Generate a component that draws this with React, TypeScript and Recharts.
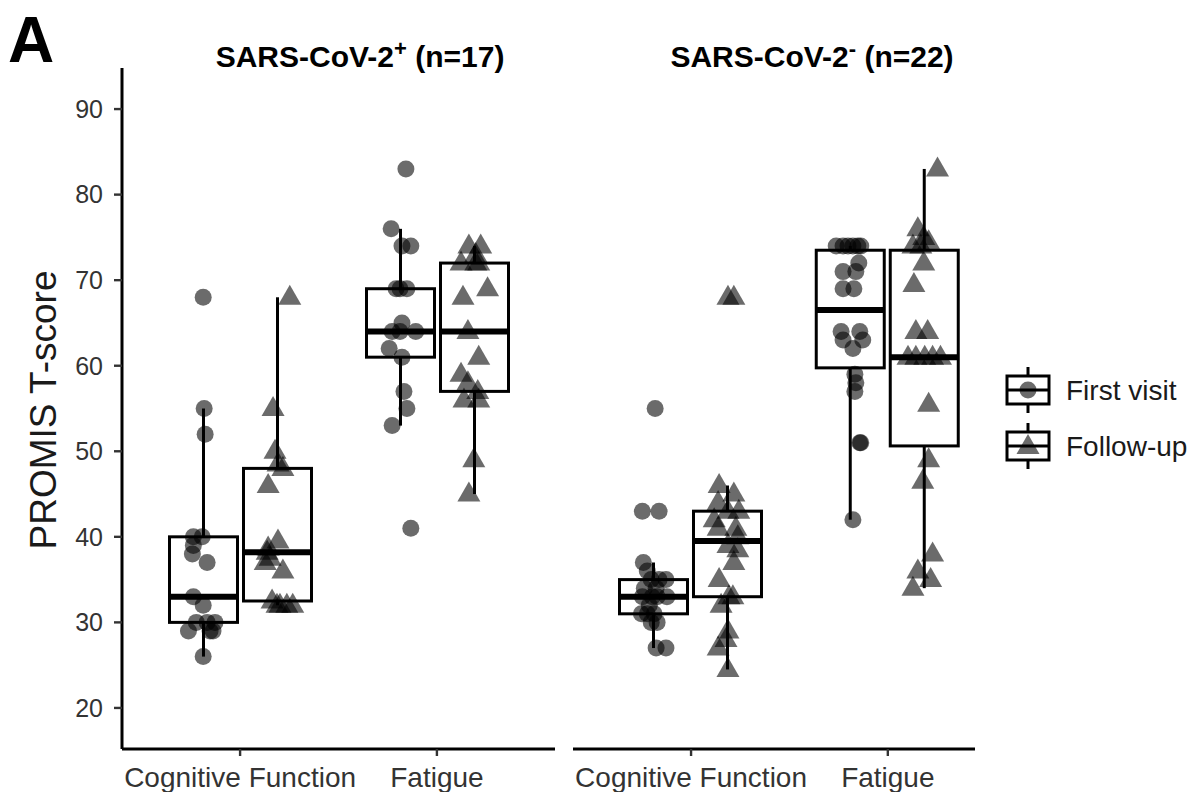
import React from 'react';
import { ComposedChart, Bar, Scatter, XAxis, YAxis } from 'recharts';

const FONT = '"Liberation Sans", Arial, Helvetica, sans-serif';

const categories = ['Cognitive Function', 'Fatigue'];
const visits = ['First visit', 'Follow-up'];
const yTicks = [20, 30, 40, 50, 60, 70, 80, 90];

// SARS-CoV-2+ (n=17): values, jitter = horizontal offset of each dot
const posCogFirst = [68, 55, 52, 40, 40, 39, 38, 37, 33, 32, 30, 30, 30, 29, 29, 29, 26];
const posCogFirstJit = [0, 0.005, 0.01, -0.05, -0.005, -0.05, -0.055, 0.02, -0.05, 0, -0.035, 0.02, 0.06, -0.075, 0.05, 0.035, 0];
const posCogFollow = [68, 55, 50, 48.5, 48, 46, 39.5, 38.7, 38.2, 37.5, 37, 36, 32.5, 32, 32, 32, 32];
const posCogFollowJit = [0.065, -0.02, -0.01, 0.005, 0.03, -0.045, 0.005, -0.045, -0.05, -0.035, -0.06, 0.03, -0.025, 0.015, 0.05, 0, 0.08];
const posFatFirst = [83, 76, 74, 74, 69, 69, 69, 65, 64, 64, 64, 62, 61, 57, 55, 53, 41];
const posFatFirstJit = [0.03, -0.045, 0.01, 0.055, -0.02, 0.035, 0, 0.01, -0.04, 0, 0.08, -0.055, 0.01, 0.02, 0.035, -0.04, 0.055];
const posFatFollow = [74, 74, 73, 72, 72, 72, 69, 68, 64, 61, 59, 58, 57, 56, 56, 49, 45];
const posFatFollowJit = [-0.025, 0.035, 0.01, -0.065, 0.01, 0.025, 0.07, -0.055, -0.03, 0.025, -0.065, -0.03, 0.02, -0.05, 0.025, 0, -0.025];

// SARS-CoV-2- (n=22)
const negCogFirst = [55, 43, 43, 37, 36, 35, 35, 35, 34, 34, 33, 33, 33, 33, 32, 31, 31, 31, 30, 30, 27, 27];
const negCogFirstJit = [0.005, -0.06, 0.025, -0.055, -0.035, 0.025, 0.06, -0.015, 0.01, -0.05, -0.06, -0.01, 0.065, 0.015, -0.025, -0.065, 0, -0.035, -0.015, 0.015, 0.01, 0.06];
const negCogFollow = [68, 68, 46, 45, 44, 43, 43, 42, 41, 41, 40, 39, 38.5, 37, 35, 33, 33, 32, 29, 28, 27, 24.5];
const negCogFollowJit = [0, 0.03, -0.045, 0.03, -0.05, 0.055, 0, -0.07, 0.04, -0.05, 0.05, 0, 0.05, 0.03, -0.045, 0.005, 0.025, -0.035, 0, -0.01, -0.05, 0];
const negFatFirst = [74, 74, 74, 74, 74, 74, 72, 71, 71, 69, 69, 64, 64, 63, 63, 62, 59, 58, 57, 51, 51, 42];
const negFatFirstJit = [-0.075, -0.04, -0.015, 0.01, 0.035, 0.05, 0.04, -0.04, 0.025, -0.04, 0.015, -0.05, 0.045, -0.04, 0.06, 0.01, 0.02, 0.025, 0.02, 0.05, 0.045, 0.01];
const negFatFollow = [83, 76, 75, 74.5, 74, 74, 72, 69.5, 64, 64, 61, 61, 61, 61, 61, 55.5, 49, 46.5, 38, 36, 35, 34];
const negFatFollowJit = [0.065, -0.035, -0.005, 0.02, -0.06, -0.02, -0.005, -0.055, 0.015, -0.045, -0.085, -0.045, 0, 0.04, 0.08, 0.02, 0.02, -0.01, 0.04, -0.035, 0.03, -0.06];

const DODGE = 0.1875;
const LINE = 3;

function quantile(sorted: number[], p: number) {
  const h = (sorted.length - 1) * p;
  const lo = Math.floor(h);
  const hi = Math.ceil(h);
  return sorted[lo] + (h - lo) * (sorted[hi] - sorted[lo]);
}

function boxStats(values: number[]) {
  const s = [...values].sort((a, b) => a - b);
  const q1 = quantile(s, 0.25);
  const med = quantile(s, 0.5);
  const q3 = quantile(s, 0.75);
  const iqr = q3 - q1;
  const lo = s.find((v) => v >= q1 - 1.5 * iqr) as number;
  const hi = [...s].reverse().find((v) => v <= q3 + 1.5 * iqr) as number;
  return { q1, med, q3, lo, hi };
}

function makeRows(first: number[][], follow: number[][]) {
  return categories.map((cat, i) => ({ cat, first: boxStats(first[i]), follow: boxStats(follow[i]) }));
}

function makePoints(vals: number[][], jit: number[][], side: number) {
  return vals.flatMap((arr, i) => arr.map((v, j) => ({ x: i + 1 + side * DODGE + jit[i][j], y: v })));
}

const boxRange = (key: 'first' | 'follow') => (d: any) => (d && d[key] ? [d[key].q1, d[key].q3] : null);

const boxShape = (key: 'first' | 'follow') => (props: any) => {
  const { x, y, width, height, payload } = props;
  const s = payload && payload[key];
  if (!s || !height) return <g />;
  const top = Math.min(y, y + height);
  const h = Math.abs(height);
  const ppu = h / (s.q3 - s.q1);
  const toY = (v: number) => top + (s.q3 - v) * ppu;
  const cx = x + width / 2;
  return (
    <g>
      <line x1={cx} x2={cx} y1={toY(s.hi)} y2={top} stroke="#000" strokeWidth={LINE} />
      <line x1={cx} x2={cx} y1={top + h} y2={toY(s.lo)} stroke="#000" strokeWidth={LINE} />
      <rect x={x} y={top} width={width} height={h} fill="#fff" stroke="#000" strokeWidth={LINE} />
      <line x1={x} x2={x + width} y1={toY(s.med)} y2={toY(s.med)} stroke="#000" strokeWidth={LINE * 2} />
    </g>
  );
};

const Dot = (props: any) => <circle cx={props.cx} cy={props.cy} r={8.5} fill="#000" fillOpacity={0.58} />;
const Tri = (props: any) => {
  const { cx, cy } = props;
  return (
    <polygon
      points={`${cx},${cy - 12.5} ${cx - 11.5},${cy + 7.5} ${cx + 11.5},${cy + 7.5}`}
      fill="#000"
      fillOpacity={0.58}
    />
  );
};

function Panel({ rows, firstPts, followPts, width, left, xMax, padRight, showY }: any) {
  return (
    <div style={{ position: 'absolute', left, top: 0 }}>
      <ComposedChart
        width={width}
        height={792}
        data={rows}
        margin={{ top: 68, right: 0, bottom: 0, left: 0 }}
        barSize={68}
        barGap={6}
      >
        <XAxis
          xAxisId="num"
          type="number"
          dataKey="x"
          domain={[0.4, xMax]}
          allowDataOverflow
          ticks={[1, 2]}
          interval={0}
          tickFormatter={(v: number) => categories[v - 1]}
          height={43}
          axisLine={{ stroke: '#000', strokeWidth: LINE }}
          tickLine={{ stroke: '#333', strokeWidth: 2.4 }}
          tickSize={7}
          tickMargin={11}
          tick={{ fontSize: 28, fill: '#333', fontFamily: FONT }}
        />
        <XAxis xAxisId="cat" dataKey="cat" hide orientation="top" height={0} padding={{ left: 19.5, right: padRight }} />
        <YAxis
          type="number"
          dataKey="y"
          domain={[15.2, 94.8]}
          allowDataOverflow
          ticks={yTicks}
          interval={0}
          hide={!showY}
          width={122}
          axisLine={{ stroke: '#000', strokeWidth: LINE }}
          tickLine={{ stroke: '#333', strokeWidth: 2.4 }}
          tickSize={8}
          tickMargin={11}
          tick={{ fontSize: 25, fill: '#333', fontFamily: FONT }}
        />
        <Bar xAxisId="cat" dataKey={boxRange('first')} shape={boxShape('first')} isAnimationActive={false} />
        <Bar xAxisId="cat" dataKey={boxRange('follow')} shape={boxShape('follow')} isAnimationActive={false} />
        <Scatter xAxisId="num" name={visits[0]} data={firstPts} shape={Dot} isAnimationActive={false} />
        <Scatter xAxisId="num" name={visits[1]} data={followPts} shape={Tri} isAnimationActive={false} />
      </ComposedChart>
    </div>
  );
}

function LegendKey({ y, tri }: { y: number; tri?: boolean }) {
  return (
    <g>
      <line x1={1028} x2={1028} y1={y - 23} y2={y + 23} stroke="#000" strokeWidth={LINE} />
      <rect x={1007} y={y - 14} width={42} height={28} fill="#fff" stroke="#000" strokeWidth={LINE} />
      {tri ? (
        <polygon points={`1028,${y - 12} 1016.5,${y + 8} 1039.5,${y + 8}`} fill="#000" fillOpacity={0.58} />
      ) : (
        <circle cx={1028} cy={y} r={8.5} fill="#000" fillOpacity={0.58} />
      )}
      <line x1={1007} x2={1049} y1={y} y2={y} stroke="#000" strokeWidth={LINE} />
    </g>
  );
}

export default function App() {
  const posRows = makeRows([posCogFirst, posFatFirst], [posCogFollow, posFatFollow]);
  const negRows = makeRows([negCogFirst, negFatFirst], [negCogFollow, negFatFollow]);
  const posFirst = makePoints([posCogFirst, posFatFirst], [posCogFirstJit, posFatFirstJit], -1);
  const posFollow = makePoints([posCogFollow, posFatFollow], [posCogFollowJit, posFatFollowJit], 1);
  const negFirst = makePoints([negCogFirst, negFatFirst], [negCogFirstJit, negFatFirstJit], -1);
  const negFollow = makePoints([negCogFollow, negFatFollow], [negCogFollowJit, negFatFollowJit], 1);

  return (
    <div style={{ position: 'absolute', left: 0, top: 0, width: 1195, height: 792, background: '#fff', fontFamily: FONT }}>
      <Panel rows={posRows} firstPts={posFirst} followPts={posFollow} width={555} left={0} xMax={2.6} padRight={19.5} showY />
      <Panel rows={negRows} firstPts={negFirst} followPts={negFollow} width={402} left={573} xMax={2.443} padRight={-11} showY={false} />
      <svg width={1195} height={792} style={{ position: 'absolute', left: 0, top: 0, pointerEvents: 'none' }}>
        <text x={8} y={62} fontSize={64} fontWeight="bold" fontFamily={FONT} fill="#000">A</text>
        <text x={360} y={67} textAnchor="middle" fontSize={30} fontWeight="bold" fontFamily={FONT} fill="#000">
          SARS-CoV-2<tspan dy={-11} fontSize={22}>+</tspan><tspan dy={11}> (n=17)</tspan>
        </text>
        <text x={812} y={67} textAnchor="middle" fontSize={30} fontWeight="bold" fontFamily={FONT} fill="#000">
          SARS-CoV-2<tspan dy={-11} fontSize={22}>-</tspan><tspan dy={11}> (n=22)</tspan>
        </text>
        <text
          transform="translate(43,410) rotate(-90)"
          textAnchor="middle"
          dominantBaseline="central"
          fontSize={37}
          fontFamily={FONT}
          fill="#1a1a1a"
        >
          PROMIS T-score
        </text>
        <LegendKey y={390} />
        <LegendKey y={446} tri />
        <text x={1066} y={400} fontSize={28} fontFamily={FONT} fill="#1a1a1a">{visits[0]}</text>
        <text x={1066} y={456} fontSize={28} fontFamily={FONT} fill="#1a1a1a">{visits[1]}</text>
      </svg>
    </div>
  );
}
